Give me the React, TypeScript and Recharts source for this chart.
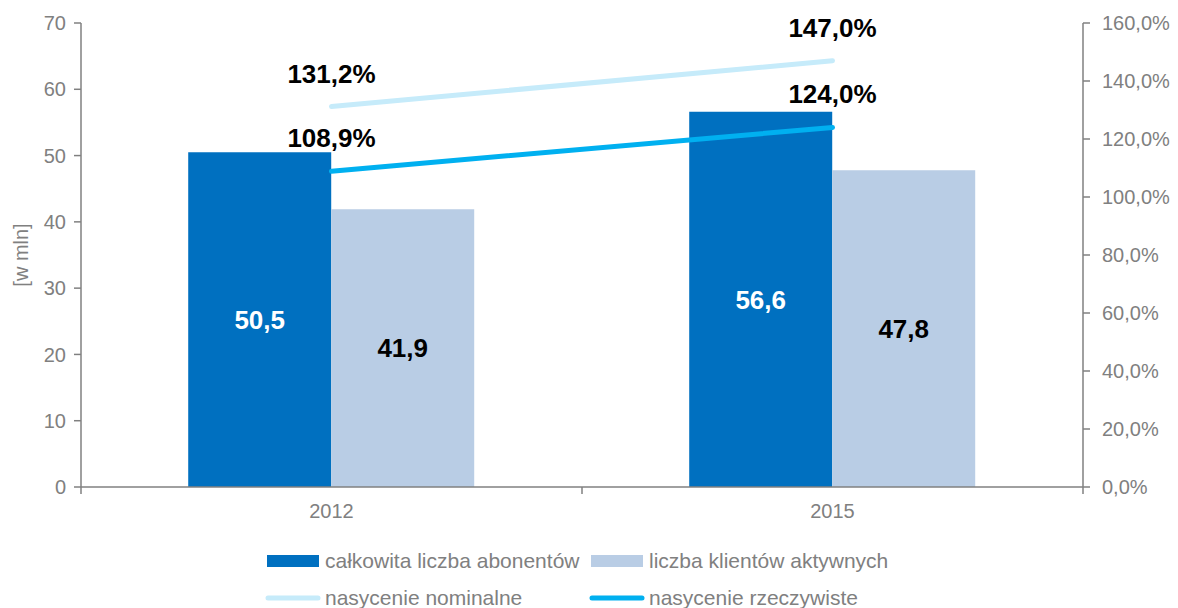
import React from 'react';
import { ComposedChart, Bar, Line, XAxis, YAxis, Legend, LabelList, Label } from 'recharts';

const years = ['2012', '2015'];
const totalSubscribers = [50.5, 56.6];
const activeClients = [41.9, 47.8];
const nominalSaturation = [131.2, 147.0];
const realSaturation = [108.9, 124.0];
const leftTicks = [0, 10, 20, 30, 40, 50, 60, 70];
const rightTicks = [0, 20, 40, 60, 80, 100, 120, 140, 160];

const data = years.map((y, i) => ({
  year: y,
  total: totalSubscribers[i],
  active: activeClients[i],
  nominal: nominalSaturation[i],
  real: realSaturation[i],
}));

const FONT = '"Liberation Sans", Arial, sans-serif';
const GREY = '#808080';
const C_TOTAL = '#0070C0';
const C_ACTIVE = '#B9CDE5';
const C_NOMINAL = '#C6EBFA';
const C_REAL = '#00B0F0';

const fmt1 = (v: number) => v.toFixed(1).replace('.', ',');
const fmtPct = (v: number) => fmt1(v) + '%';

const XTick = (props: any) => {
  const { x, y, payload, index, visibleTicksCount } = props;
  const half = payload.offset || 250;
  return (
    <g>
      <line x1={x - half} y1={y} x2={x - half} y2={y + 7} stroke={GREY} strokeWidth={1.5} />
      {index === visibleTicksCount - 1 && (
        <line x1={x + half} y1={y} x2={x + half} y2={y + 7} stroke={GREY} strokeWidth={1.5} />
      )}
      <text x={x} y={y + 31} textAnchor="middle" fill={GREY} fontSize={20} fontFamily={FONT}>
        {payload.value}
      </text>
    </g>
  );
};

const YTitle = (props: any) => {
  const vb = props.viewBox || { x: 0, y: 15, width: 73, height: 464 };
  const cx = vb.x + 13;
  const cy = vb.y + vb.height / 2;
  return (
    <text
      x={cx}
      y={cy}
      transform={`rotate(-90, ${cx}, ${cy})`}
      textAnchor="middle"
      dominantBaseline="central"
      fill={GREY}
      fontSize={20}
      fontFamily={FONT}
    >
      [w mln]
    </text>
  );
};

const legendItems = [
  { label: 'całkowita liczba abonentów', color: C_TOTAL, kind: 'rect' },
  { label: 'liczba klientów aktywnych', color: C_ACTIVE, kind: 'rect' },
  { label: 'nasycenie nominalne', color: C_NOMINAL, kind: 'line' },
  { label: 'nasycenie rzeczywiste', color: C_REAL, kind: 'line' },
];

const renderLegend = () => (
  <div
    style={{
      width: 648,
      height: 62,
      margin: '0 auto',
      paddingTop: 2,
      display: 'grid',
      gridTemplateColumns: '324px 324px',
      rowGap: 11,
      fontFamily: FONT,
      fontSize: 21,
      color: GREY,
    }}
  >
    {legendItems.map((it) => (
      <div key={it.label} style={{ display: 'flex', alignItems: 'center', height: 26, whiteSpace: 'nowrap' }}>
        <svg width={56} height={14} style={{ marginRight: 4, flex: 'none' }}>
          {it.kind === 'rect' ? (
            <rect x={2} y={1} width={52} height={12} fill={it.color} />
          ) : (
            <line x1={3} y1={7} x2={53} y2={7} stroke={it.color} strokeWidth={5} strokeLinecap="round" />
          )}
        </svg>
        <span>{it.label}</span>
      </div>
    ))}
  </div>
);

export default function App() {
  return (
    <ComposedChart
      width={1162}
      height={600}
      data={data}
      margin={{ top: 15, right: 0, left: 0, bottom: 0 }}
      barCategoryGap="21.4%"
      barGap={0}
    >
      <XAxis
        dataKey="year"
        xAxisId={0}
        height={59}
        tickLine={false}
        tickSize={0}
        tickMargin={0}
        axisLine={{ stroke: GREY, strokeWidth: 1.5 }}
        tick={<XTick />}
        interval={0}
      />
      <YAxis
        yAxisId="left"
        orientation="left"
        width={73}
        domain={[0, 70]}
        ticks={leftTicks}
        interval={0}
        tickSize={7}
        tickMargin={8}
        axisLine={{ stroke: GREY, strokeWidth: 1.5 }}
        tickLine={{ stroke: GREY, strokeWidth: 1.5 }}
        tick={{ fill: GREY, fontSize: 20, fontFamily: FONT }}
      >
        <Label content={<YTitle />} />
      </YAxis>
      <YAxis
        yAxisId="right"
        orientation="right"
        width={87}
        domain={[0, 160]}
        ticks={rightTicks}
        interval={0}
        tickSize={7}
        tickMargin={12}
        tickFormatter={fmtPct}
        axisLine={{ stroke: GREY, strokeWidth: 1.5 }}
        tickLine={{ stroke: GREY, strokeWidth: 1.5 }}
        tick={{ fill: GREY, fontSize: 20, fontFamily: FONT, textAnchor: 'start' }}
      />
      <Legend verticalAlign="bottom" align="center" content={renderLegend} height={62} />
      <Bar yAxisId="left" dataKey="total" name="całkowita liczba abonentów" fill={C_TOTAL} isAnimationActive={false}>
        <LabelList
          dataKey="total"
          position="center"
          formatter={(v: any) => fmt1(Number(v))}
          fill="#FFFFFF"
          style={{ fontSize: 26, fontWeight: 'bold', fontFamily: FONT }}
        />
      </Bar>
      <Bar yAxisId="left" dataKey="active" name="liczba klientów aktywnych" fill={C_ACTIVE} isAnimationActive={false}>
        <LabelList
          dataKey="active"
          position="center"
          formatter={(v: any) => fmt1(Number(v))}
          fill="#000000"
          style={{ fontSize: 26, fontWeight: 'bold', fontFamily: FONT }}
        />
      </Bar>
      <Line
        yAxisId="right"
        dataKey="nominal"
        name="nasycenie nominalne"
        stroke={C_NOMINAL}
        strokeWidth={5}
        strokeLinecap="round"
        dot={false}
        activeDot={false}
        isAnimationActive={false}
      >
        <LabelList
          dataKey="nominal"
          position="top"
          offset={24}
          formatter={(v: any) => fmtPct(Number(v))}
          fill="#000000"
          style={{ fontSize: 26, fontWeight: 'bold', fontFamily: FONT }}
        />
      </Line>
      <Line
        yAxisId="right"
        dataKey="real"
        name="nasycenie rzeczywiste"
        stroke={C_REAL}
        strokeWidth={5}
        strokeLinecap="round"
        dot={false}
        activeDot={false}
        isAnimationActive={false}
      >
        <LabelList
          dataKey="real"
          position="top"
          offset={24}
          formatter={(v: any) => fmtPct(Number(v))}
          fill="#000000"
          style={{ fontSize: 26, fontWeight: 'bold', fontFamily: FONT }}
        />
      </Line>
    </ComposedChart>
  );
}
